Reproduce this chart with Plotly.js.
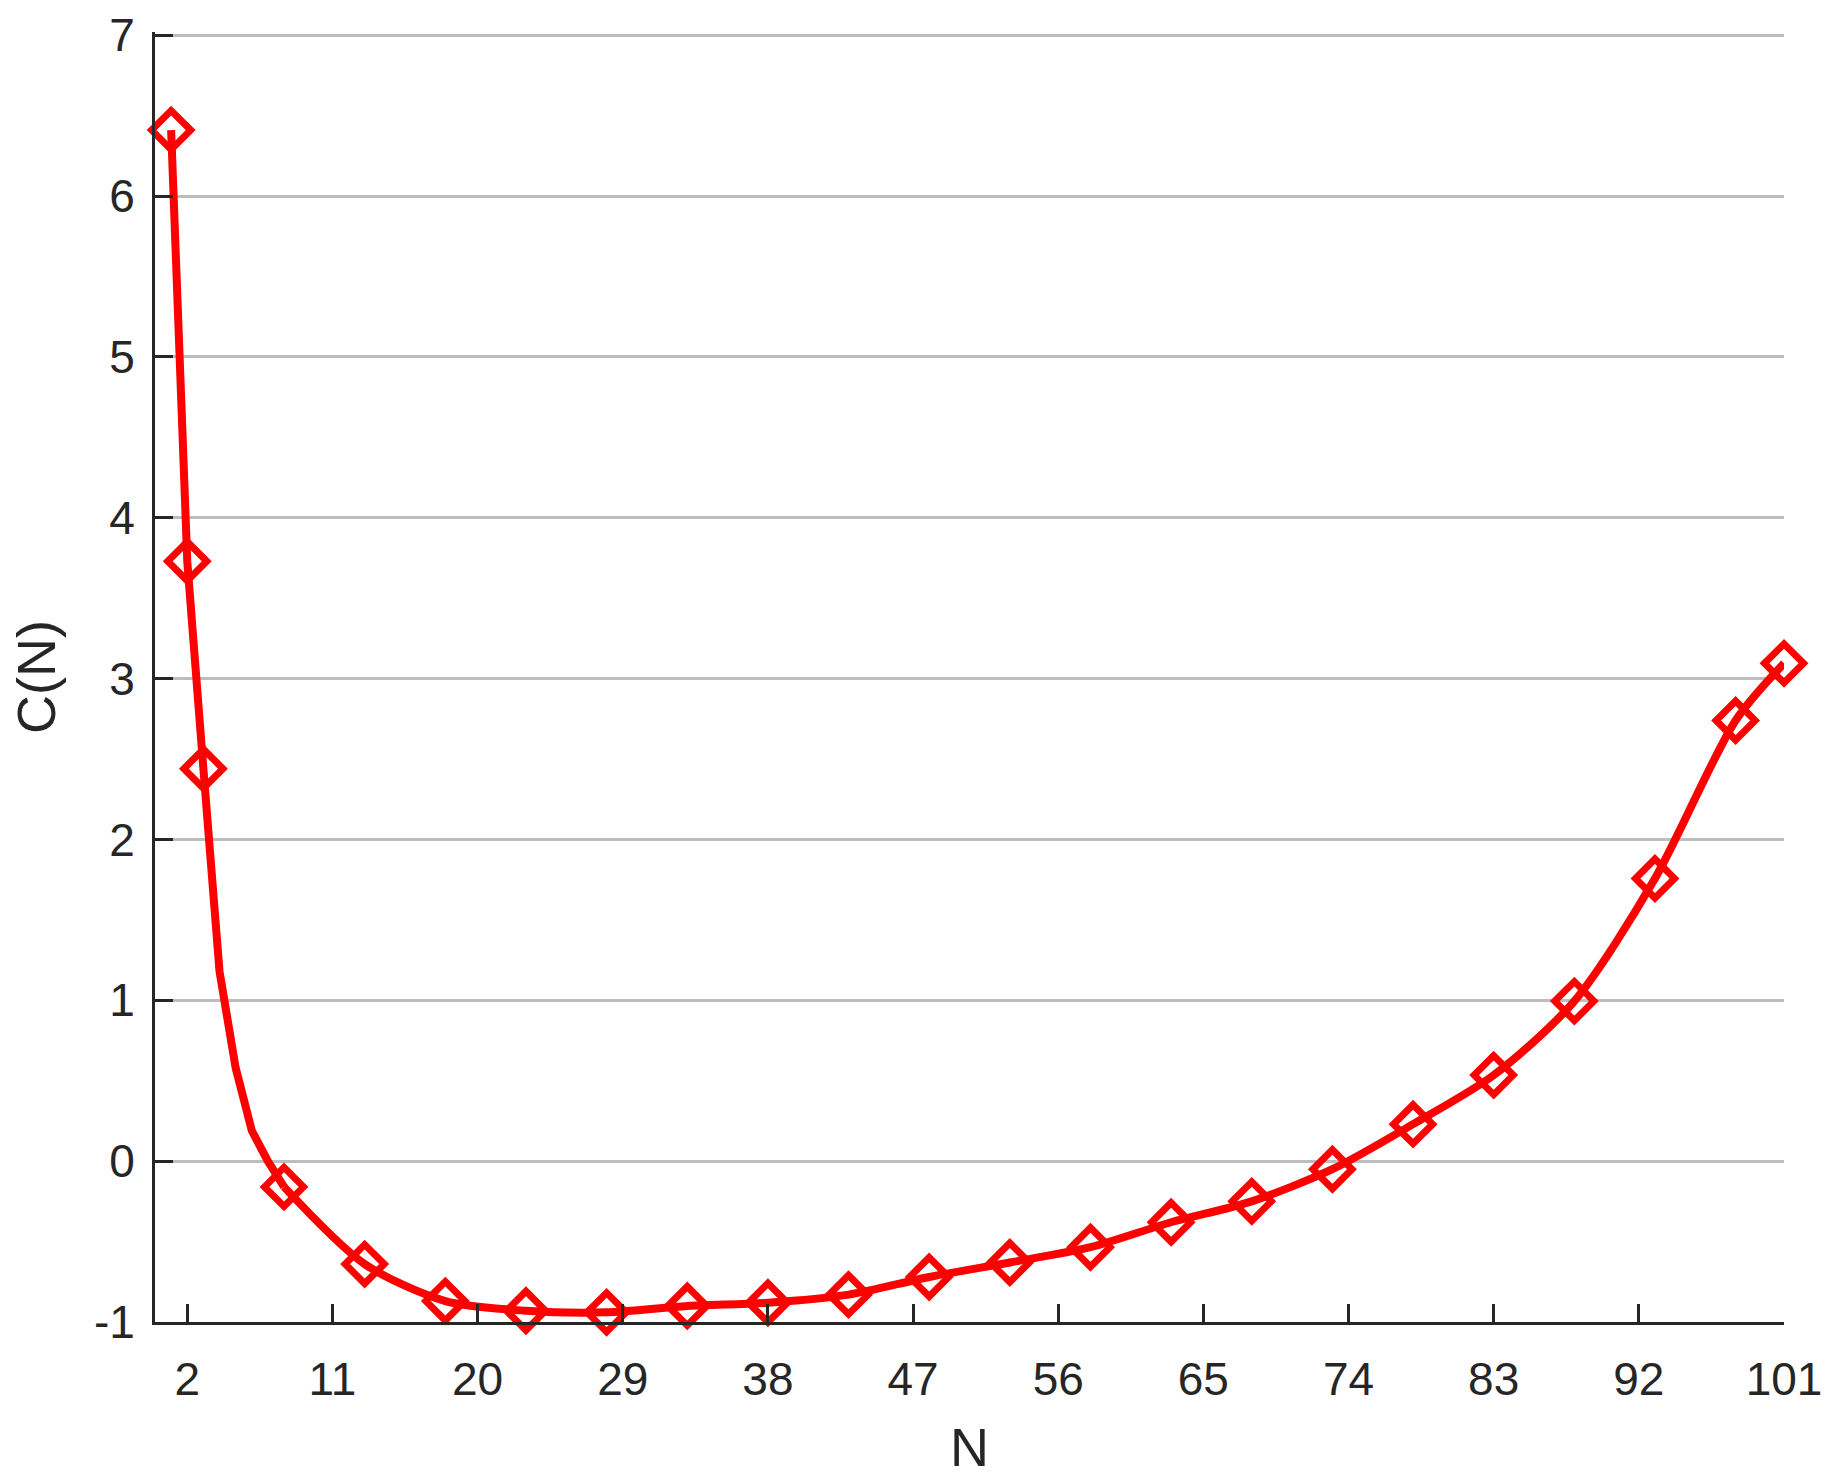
<!DOCTYPE html>
<html>
<head>
<meta charset="utf-8">
<script src="https://cdn.plot.ly/plotly-3.0.1.min.js"></script>
<style>
html,body{margin:0;padding:0;background:#fff;}
#chart{width:1833px;height:1483px;}
</style>
</head>
<body>
<div id="chart"></div>
<script>
// Early part of the curve (data read at every integer N)
const N_early = [1, 2, 3, 4, 5, 6, 7, 8];
const C_early = [6.41, 3.73, 2.44, 1.18, 0.58, 0.19, 0.0, -0.16];

// Later part of the curve (read at the marker positions)
const N_late = [8, 13, 18, 23, 28, 33, 38, 43, 48, 53, 58, 63, 68, 73, 78, 83, 88, 93, 98, 101];
const C_late = [-0.16, -0.64, -0.87, -0.93, -0.94, -0.90, -0.88, -0.83, -0.72, -0.63, -0.535, -0.38, -0.25, -0.05, 0.23, 0.535, 0.995, 1.757, 2.74, 3.095];

// Marker positions
const N_markers = [1, 2, 3, 8, 13, 18, 23, 28, 33, 38, 43, 48, 53, 58, 63, 68, 73, 78, 83, 88, 93, 98, 101];
const C_markers = [6.41, 3.73, 2.44, -0.16, -0.64, -0.87, -0.93, -0.94, -0.90, -0.88, -0.83, -0.72, -0.63, -0.535, -0.38, -0.25, -0.05, 0.23, 0.535, 0.995, 1.757, 2.74, 3.095];

// Ticks
const xTicks = [2, 11, 20, 29, 38, 47, 56, 65, 74, 83, 92, 101];
const yTicks = [-1, 0, 1, 2, 3, 4, 5, 6, 7];

const red = '#ff0000';
const ink = '#262626';
const fontFamily = '"Liberation Sans", Arial, Helvetica, sans-serif';

const traces = [
  {x: N_early, y: C_early, mode: 'lines', line: {color: red, width: 8, shape: 'linear'}, cliponaxis: false, showlegend: false, hoverinfo: 'skip'},
  {x: N_late, y: C_late, mode: 'lines', line: {color: red, width: 8, shape: 'spline', smoothing: 0.8}, cliponaxis: false, showlegend: false, hoverinfo: 'skip'},
  {x: N_markers, y: C_markers, mode: 'markers', marker: {symbol: 'diamond-open', size: 30, color: red, line: {color: red, width: 7}}, cliponaxis: false, showlegend: false}
];

const layout = {
  width: 1833, height: 1483,
  margin: {l: 155, r: 49, t: 32, b: 161, pad: 0},
  paper_bgcolor: '#ffffff', plot_bgcolor: '#ffffff',
  font: {family: fontFamily, color: ink},
  xaxis: {
    range: [0, 101], tickmode: 'array', tickvals: xTicks, ticktext: xTicks.map(String),
    ticks: 'inside', ticklen: 18, tickwidth: 3, tickcolor: ink,
    showline: true, linecolor: ink, linewidth: 3, mirror: false,
    showgrid: false, zeroline: false,
    tickfont: {size: 46, color: ink, family: fontFamily},
    ticklabelstandoff: 15,
    title: {text: 'N', font: {size: 54, color: ink, family: fontFamily}, standoff: 24}
  },
  yaxis: {
    range: [-1, 7.02], tickmode: 'array', tickvals: yTicks, ticktext: yTicks.map(String),
    ticks: 'inside', ticklen: 18, tickwidth: 3, tickcolor: ink,
    showline: true, linecolor: ink, linewidth: 3, mirror: false,
    showgrid: true, gridcolor: '#bdbdbd', gridwidth: 3, zeroline: false,
    tickfont: {size: 46, color: ink, family: fontFamily},
    ticklabelstandoff: 8,
    title: {text: 'C(N)', font: {size: 54, color: ink, family: fontFamily}, standoff: 21}
  }
};

Plotly.newPlot('chart', traces, layout, {displayModeBar: false, staticPlot: true});
</script>
</body>
</html>
